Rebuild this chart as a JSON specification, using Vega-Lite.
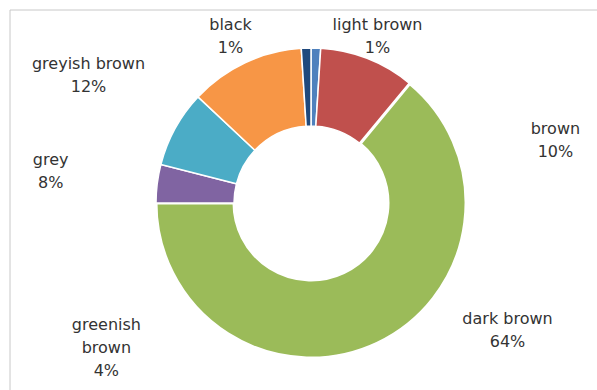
{
  "$schema": "https://vega.github.io/schema/vega-lite/v6.json",
  "width": 602,
  "height": 386,
  "autosize": {"type": "none"},
  "padding": {"left": 10, "top": 10, "right": 0, "bottom": 0},
  "background": "white",
  "config": {
    "view": {"stroke": null},
    "text": {"font": "DejaVu Sans", "fontSize": 16, "fill": "#333333", "lineHeight": 23, "baseline": "middle", "align": "center"}
  },
  "data": {
    "values": [
      {"rank": 1, "category": "light brown", "share": 0.01, "label": ["light brown", "1%"]},
      {"rank": 2, "category": "brown", "share": 0.10, "label": ["brown", "10%"]},
      {"rank": 3, "category": "dark brown", "share": 0.64, "label": ["dark brown", "64%"]},
      {"rank": 4, "category": "greenish brown", "share": 0.04, "label": ["greenish", "brown", "4%"]},
      {"rank": 5, "category": "grey", "share": 0.08, "label": ["grey", "8%"]},
      {"rank": 6, "category": "greyish brown", "share": 0.12, "label": ["greyish brown", "12%"]},
      {"rank": 7, "category": "black", "share": 0.01, "label": ["black", "1%"]}
    ]
  },
  "layer": [
    {
      "transform": [{"filter": "datum.rank === 1"}],
      "mark": {"type": "rect", "fill": null, "stroke": "#C8C8C8", "strokeWidth": 1}
    },
    {
      "mark": {"type": "arc", "radius": 155, "radius2": 77, "stroke": "white"},
      "encoding": {
        "theta": {"field": "share", "type": "quantitative", "stack": true},
        "order": {"field": "rank", "type": "quantitative"},
        "strokeWidth": {"condition": {"test": "datum.category === 'dark brown'", "value": 3}, "value": 1.5},
        "color": {
          "field": "category",
          "type": "nominal",
          "legend": null,
          "scale": {
            "domain": ["light brown", "brown", "dark brown", "greenish brown", "grey", "greyish brown", "black"],
            "range": ["#4F81BD", "#C0504D", "#9BBB59", "#8064A2", "#4BACC6", "#F79646", "#1F497D"]
          }
        }
      }
    },
    {
      "mark": {"type": "text", "radius": 175, "dx": 61, "dy": -3.5},
      "encoding": {"theta": {"field": "share", "type": "quantitative", "stack": true}, "order": {"field": "rank", "type": "quantitative"}, "detail": {"field": "category"}, "text": {"condition": {"test": "datum.category === 'light brown'", "field": "label"}, "value": ""}}
    },
    {
      "mark": {"type": "text", "radius": 175, "dx": -75, "dy": -3.5},
      "encoding": {"theta": {"field": "share", "type": "quantitative", "stack": true}, "order": {"field": "rank", "type": "quantitative"}, "detail": {"field": "category"}, "text": {"condition": {"test": "datum.category === 'black'", "field": "label"}, "value": ""}}
    },
    {
      "mark": {"type": "text", "radius": 175, "dx": 180, "dy": 88.5},
      "encoding": {"theta": {"field": "share", "type": "quantitative", "stack": true}, "order": {"field": "rank", "type": "quantitative"}, "detail": {"field": "category"}, "text": {"condition": {"test": "datum.category === 'brown'", "field": "label"}, "value": ""}}
    },
    {
      "mark": {"type": "text", "radius": 175, "dx": 122, "dy": -42.5},
      "encoding": {"theta": {"field": "share", "type": "quantitative", "stack": true}, "order": {"field": "rank", "type": "quantitative"}, "detail": {"field": "category"}, "text": {"condition": {"test": "datum.category === 'dark brown'", "field": "label"}, "value": ""}}
    },
    {
      "mark": {"type": "text", "radius": 175, "dx": -31, "dy": 144},
      "encoding": {"theta": {"field": "share", "type": "quantitative", "stack": true}, "order": {"field": "rank", "type": "quantitative"}, "detail": {"field": "category"}, "text": {"condition": {"test": "datum.category === 'greenish brown'", "field": "label"}, "value": ""}}
    },
    {
      "mark": {"type": "text", "radius": 175, "dx": -107, "dy": 41.5},
      "encoding": {"theta": {"field": "share", "type": "quantitative", "stack": true}, "order": {"field": "rank", "type": "quantitative"}, "detail": {"field": "category"}, "text": {"condition": {"test": "datum.category === 'grey'", "field": "label"}, "value": ""}}
    },
    {
      "mark": {"type": "text", "radius": 175, "dx": -148, "dy": 19.5},
      "encoding": {"theta": {"field": "share", "type": "quantitative", "stack": true}, "order": {"field": "rank", "type": "quantitative"}, "detail": {"field": "category"}, "text": {"condition": {"test": "datum.category === 'greyish brown'", "field": "label"}, "value": ""}}
    }
  ]
}
